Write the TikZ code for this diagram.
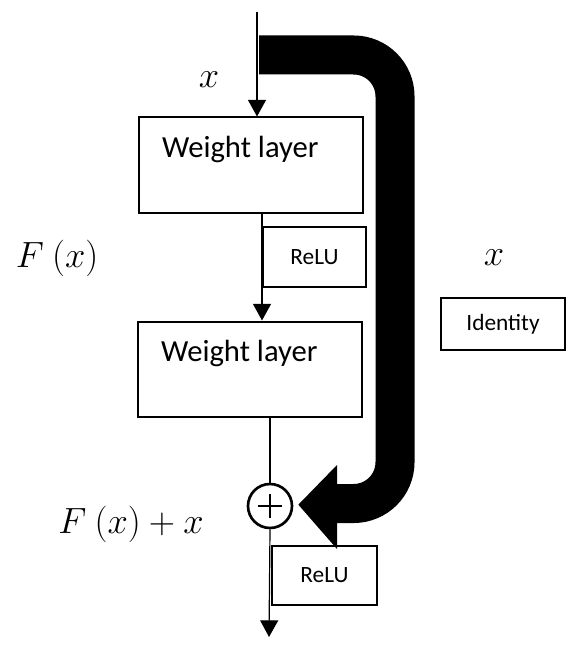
\documentclass[tikz,border=0pt]{standalone}
\usepackage{fontspec}
\setmainfont{Carlito}
\usetikzlibrary{arrows.meta}
\tikzset{
  wbox/.style={draw,line width=1.5pt,minimum width=224*0.75pt,minimum height=95*0.75pt,inner sep=0pt},
  sbox/.style={draw,line width=1.5pt,inner sep=0pt,font=\fontsize{17.5}{20}\selectfont},
  flow/.style={line width=0.9pt,-{Triangle[width=13.5pt,length=12.5pt]}},
  lbl/.style={font=\fontsize{24.88}{30}\selectfont,scale=1.1,transform shape}
}

\begin{document}
\begin{tikzpicture}[x=0.75pt,y=-0.75pt]
			%%%%% START %%%%%
			\def\thick{29.25pt}
			\def\lw{0.9pt}
			\useasboundingbox (0,0) rectangle (574,652);

			\node[wbox,label={[xshift=-8pt,yshift=12pt,font=\fontsize{23}{26}\selectfont]center:Weight layer}] (w1) at (251,165) {};
			\node[wbox,label={[xshift=-8pt,yshift=12pt,font=\fontsize{23}{26}\selectfont]center:Weight layer}] (w2) at (250,369) {};
			\node[sbox,minimum width=103*0.75pt,minimum height=60*0.75pt] (r1) at (314.5,257) {ReLU};
			\node[sbox,minimum width=105*0.75pt,minimum height=59*0.75pt] (r2) at (324.5,575.5) {ReLU};
			\node[sbox,minimum width=124*0.75pt,minimum height=52*0.75pt] (id) at (503,324) {Identity};
			\node[circle,draw,line width=2pt,minimum size=44*0.75pt,inner sep=0pt] (plus) at (270,506) {};
			\draw[line width=2pt] ([xshift=-12*0.75pt]plus.center) -- ([xshift=12*0.75pt]plus.center);
			\draw[line width=2pt] ([yshift=-12*0.75pt]plus.center) -- ([yshift=12*0.75pt]plus.center);

			\node[lbl] (xin) at (209,80) {$x$};
			\node[lbl] (fx) at (57,258) {$F\ (x)$};
			\node[lbl] (xid) at (494,258) {$x$};
			\node[lbl] (fxx) at (131,524) {$F\ (x)+x$};

			\coordinate (in) at (257,12);
			\coordinate (out) at (269,637);
			\coordinate (skip) at (259,55);

			% main path
			\draw[flow] (in) -- (in |- w1.north);
			\draw[flow] (w1.south -| r1.west) -- (w2.north -| r1.west);
			\draw[line width=\lw] (plus |- w2.south) -- (plus.north);
			\draw[flow] (plus.south) -- (out);

			% shortcut
			\draw[line width=\thick,rounded corners=31pt] (skip) -- (395,55) -- (395,503.5) -- (336,503.5);
			\fill ([xshift=5*0.75pt,yshift=1pt]plus.east) -- (337,465) -- (337,549) -- cycle;
			%%%%% END %%%%%
\end{tikzpicture}
\end{document}
